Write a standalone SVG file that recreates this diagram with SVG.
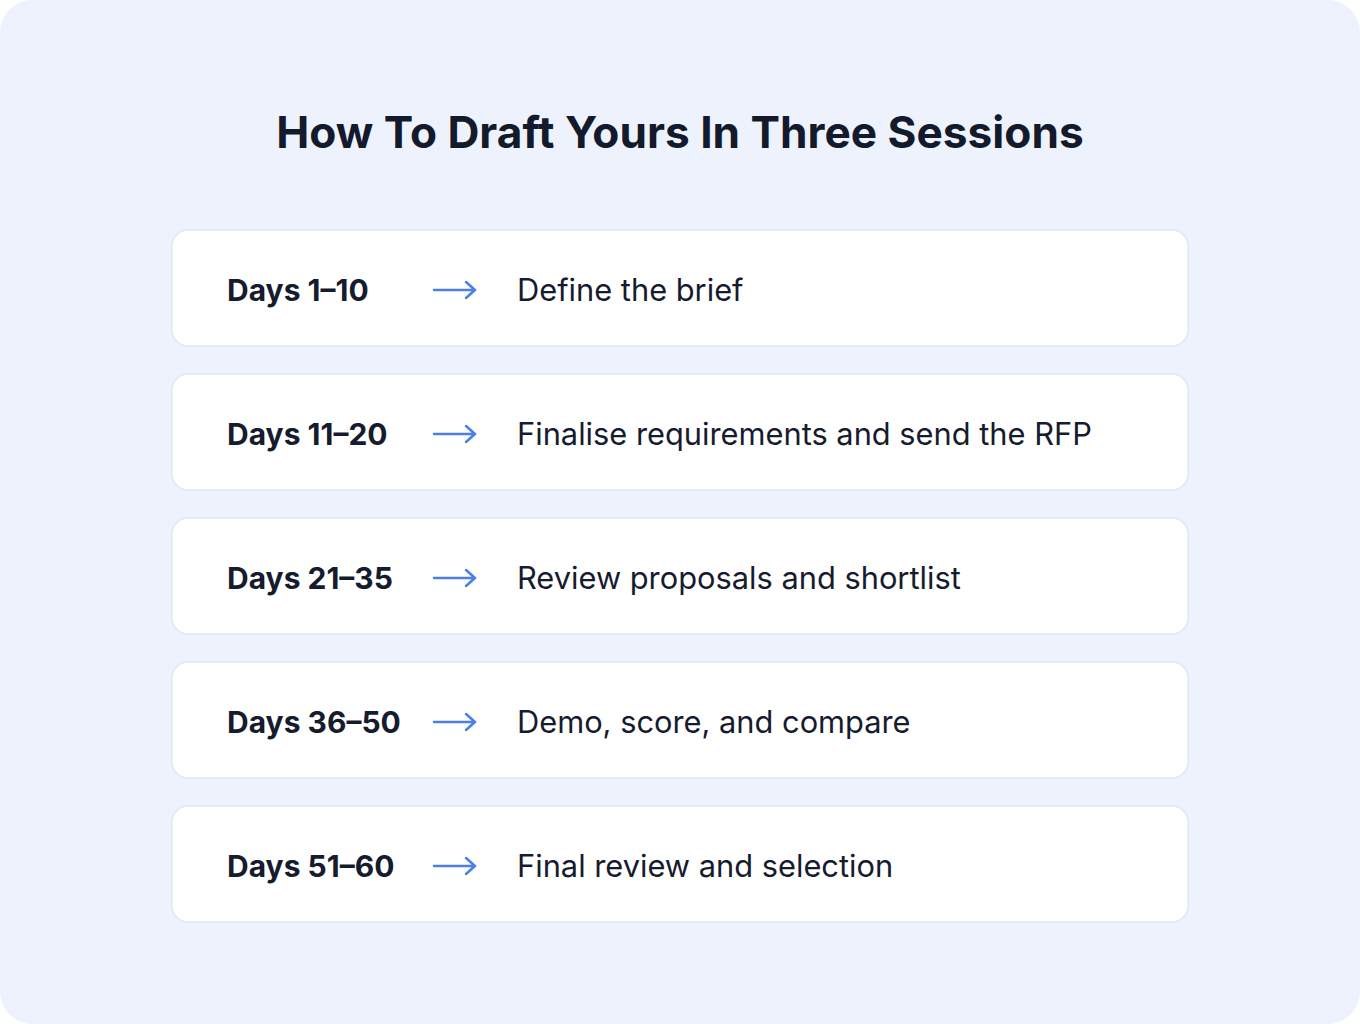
<svg xmlns="http://www.w3.org/2000/svg" width="1360" height="1024" viewBox="0 0 1360 1024">
<style>
.card{fill:#FFFFFF;stroke:#E1E6F0;stroke-width:1.5}
.day{font-family:Inter,"Liberation Sans",sans-serif;font-weight:700;font-size:30px;fill:#161B2E}
.desc{font-family:Inter,"Liberation Sans",sans-serif;font-weight:400;font-size:30.8px;fill:#161B2E}
.arr{fill:none;stroke:#4A7FEE;stroke-width:2.5;stroke-linecap:round;stroke-linejoin:round}
.title{font-family:Inter,"Liberation Sans",sans-serif;font-weight:700;font-size:44.2px;fill:#131A2C}
</style>
<rect x="0" y="0" width="1360" height="1024" fill="#FFFFFF"/>
<rect x="0" y="0" width="1360" height="1024" rx="32" fill="#EEF2FC"/>
<text class="title" x="680" y="148" text-anchor="middle">How To Draft Yours In Three Sessions</text>
<g id="row1">
<rect class="card" x="172" y="230" width="1016" height="116" rx="16"/>
<text class="day" x="227" y="301">Days 1–10</text>
<text class="desc" x="517" y="301">Define the brief</text>
</g>
<g id="row2">
<rect class="card" x="172" y="374" width="1016" height="116" rx="16"/>
<text class="day" x="227" y="445">Days 11–20</text>
<text class="desc" x="517" y="445">Finalise requirements and send the RFP</text>
</g>
<g id="row3">
<rect class="card" x="172" y="518" width="1016" height="116" rx="16"/>
<text class="day" x="227" y="589">Days 21–35</text>
<text class="desc" x="517" y="589">Review proposals and shortlist</text>
</g>
<g id="row4">
<rect class="card" x="172" y="662" width="1016" height="116" rx="16"/>
<text class="day" x="227" y="733">Days 36–50</text>
<text class="desc" x="517" y="733">Demo, score, and compare</text>
</g>
<g id="row5">
<rect class="card" x="172" y="806" width="1016" height="116" rx="16"/>
<text class="day" x="227" y="877">Days 51–60</text>
<text class="desc" x="517" y="877">Final review and selection</text>
</g>
<g id="connectors">
<path class="arr" d="M434 290H475M466 282L475 290L466 298"/>
<path class="arr" d="M434 434H475M466 426L475 434L466 442"/>
<path class="arr" d="M434 578H475M466 570L475 578L466 586"/>
<path class="arr" d="M434 722H475M466 714L475 722L466 730"/>
<path class="arr" d="M434 866H475M466 858L475 866L466 874"/>
</g>
</svg>
